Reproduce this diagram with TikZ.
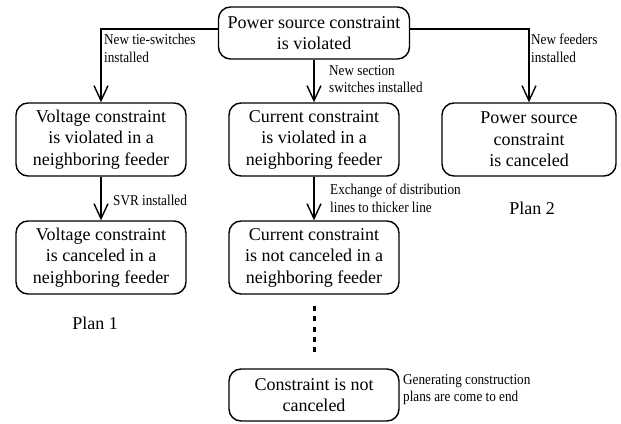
\documentclass[tikz,border=0pt]{standalone}
\usepackage{fontspec}
\setmainfont{Liberation Serif}
\newfontfamily\labelfont{Liberation Serif}[FakeStretch=0.88]
\usetikzlibrary{arrows.meta}

\begin{document}
\begin{tikzpicture}[x=1pt, y=-1pt,
    box/.style = {draw, line width=1.4pt, rounded corners=12pt, align=center,
                  font=\fontsize{18}{21.5}\selectfont, inner sep=0pt,
                  minimum width=170pt, minimum height=73pt},
    note/.style = {align=left, anchor=north west, inner sep=0pt,
                   font=\labelfont\fontsize{15}{17.5}\selectfont},
    flow/.style = {line width=1.4pt, -{Straight Barb[length=15pt,width=14pt,line width=1.4pt]}}]
    \useasboundingbox (0,0) rectangle (621,423);

    % boxes
    \node[box, minimum width=191pt, minimum height=52pt] (top) at (314,33) {Power source constraint\\is violated};
    \node[box] (volt) at (101,139.5) {Voltage constraint\\is violated in a\\neighboring feeder};
    \node[box] (curr) at (314,139.5) {Current constraint\\is violated in a\\neighboring feeder};
    \node[box, minimum width=174pt] (power) at (529,139.5) {Power source\\constraint\\is canceled};
    \node[box] (voltok) at (101,257.5) {Voltage constraint\\is canceled in a\\neighboring feeder};
    \node[box] (currno) at (314,257.5) {Current constraint\\is not canceled in a\\neighboring feeder};
    \node[box, minimum height=52pt] (stop) at (314,395) {Constraint is not\\canceled};

    % arrows
    \draw[flow] ([yshift=4pt]top.west) -| (volt.north);
    \draw[flow] ([yshift=4pt]top.east) -| (power.north);
    \draw[flow] (top) -- (curr);
    \draw[flow] (volt) -- (voltok);
    \draw[flow] (curr) -- (currno);
    \draw[line width=3pt, dash pattern=on 5pt off 5.4pt, shorten <=11pt, shorten >=12pt] (currno) -- (stop);

    % labels
    \node[note] (tielbl) at (104,34) {New tie-switches\\installed};
    \node[note] (feedlbl) at (531,34) {New feeders\\installed};
    \node[note] (seclbl) at (329,65) {New section\\switches installed};
    \node[note] (svrlbl) at (113,195) {SVR installed};
    \node[note] (exchlbl) at (330,184) {Exchange of distribution\\lines to thicker line};
    \node[note] (genlbl) at (403,374) {Generating construction\\plans are come to end};
    \node[font=\fontsize{18}{21}\selectfont] (plan1) at (95,323) {Plan 1};
    \node[font=\fontsize{18}{21}\selectfont] (plan2) at (532,208) {Plan 2};
\end{tikzpicture}
\end{document}
